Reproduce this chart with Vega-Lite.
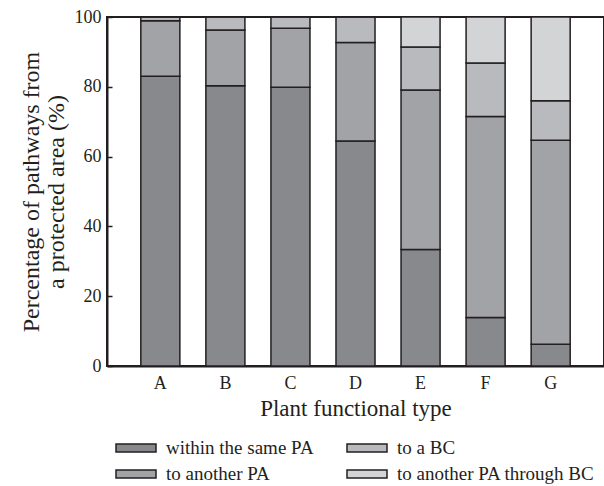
{
  "$schema": "https://vega.github.io/schema/vega-lite/v6.json",
  "width": 497,
  "height": 349,
  "autosize": {"type": "none"},
  "padding": {"left": 107, "top": 17, "right": 0, "bottom": 120},
  "background": "white",
  "config": {
    "font": "Liberation Serif",
    "view": {"stroke": "#231f20", "strokeWidth": 2}
  },
  "data": {
    "values": [
      {"type": "A", "cat": "within the same PA", "k": 1, "pct": 83.0},
      {"type": "A", "cat": "to another PA", "k": 2, "pct": 15.9},
      {"type": "A", "cat": "to a BC", "k": 3, "pct": 1.1},
      {"type": "A", "cat": "to another PA through BC", "k": 4, "pct": 0},
      {"type": "B", "cat": "within the same PA", "k": 1, "pct": 80.3},
      {"type": "B", "cat": "to another PA", "k": 2, "pct": 16.0},
      {"type": "B", "cat": "to a BC", "k": 3, "pct": 3.7},
      {"type": "B", "cat": "to another PA through BC", "k": 4, "pct": 0},
      {"type": "C", "cat": "within the same PA", "k": 1, "pct": 79.9},
      {"type": "C", "cat": "to another PA", "k": 2, "pct": 16.9},
      {"type": "C", "cat": "to a BC", "k": 3, "pct": 3.2},
      {"type": "C", "cat": "to another PA through BC", "k": 4, "pct": 0},
      {"type": "D", "cat": "within the same PA", "k": 1, "pct": 64.5},
      {"type": "D", "cat": "to another PA", "k": 2, "pct": 28.2},
      {"type": "D", "cat": "to a BC", "k": 3, "pct": 7.3},
      {"type": "D", "cat": "to another PA through BC", "k": 4, "pct": 0},
      {"type": "E", "cat": "within the same PA", "k": 1, "pct": 33.4},
      {"type": "E", "cat": "to another PA", "k": 2, "pct": 45.7},
      {"type": "E", "cat": "to a BC", "k": 3, "pct": 12.3},
      {"type": "E", "cat": "to another PA through BC", "k": 4, "pct": 8.6},
      {"type": "F", "cat": "within the same PA", "k": 1, "pct": 13.9},
      {"type": "F", "cat": "to another PA", "k": 2, "pct": 57.6},
      {"type": "F", "cat": "to a BC", "k": 3, "pct": 15.3},
      {"type": "F", "cat": "to another PA through BC", "k": 4, "pct": 13.2},
      {"type": "G", "cat": "within the same PA", "k": 1, "pct": 6.2},
      {"type": "G", "cat": "to another PA", "k": 2, "pct": 58.5},
      {"type": "G", "cat": "to a BC", "k": 3, "pct": 11.3},
      {"type": "G", "cat": "to another PA through BC", "k": 4, "pct": 24.0}
    ]
  },
  "mark": {"type": "bar", "stroke": "#231f20", "strokeWidth": 1.5},
  "encoding": {
    "x": {
      "field": "type", "type": "nominal",
      "scale": {"paddingInner": 0.4, "paddingOuter": 0.52},
      "axis": {
        "title": "Plant functional type", "titleFont": "Liberation Serif", "titleFontSize": 23, "titleFontWeight": "normal",
        "titleColor": "#231f20", "titlePadding": 5,
        "labelFont": "Liberation Serif", "labelAngle": 0, "labelFontSize": 18, "labelColor": "#231f20", "labelPadding": 8,
        "ticks": false, "domainColor": "#231f20", "domainWidth": 2
      }
    },
    "y": {
      "field": "pct", "type": "quantitative", "stack": "zero",
      "scale": {"domain": [0, 100], "nice": false},
      "axis": {
        "title": ["Percentage of pathways from", "a protected area (%)"],
        "titleFont": "Liberation Serif", "titleFontSize": 24, "titleFontWeight": "normal", "titleColor": "#231f20",
        "titlePadding": 6, "titleLineHeight": 25,
        "values": [0, 20, 40, 60, 80, 100], "grid": false,
        "labelFont": "Liberation Serif", "labelFontSize": 18, "labelColor": "#231f20", "labelPadding": 11,
        "tickSize": -5, "tickColor": "#231f20", "tickWidth": 1.5,
        "domainColor": "#231f20", "domainWidth": 2
      }
    },
    "order": {"field": "k", "type": "quantitative"},
    "color": {
      "field": "cat", "type": "nominal",
      "scale": {
        "domain": ["within the same PA", "to another PA", "to a BC", "to another PA through BC"],
        "range": ["#88898d", "#a2a3a6", "#b9babd", "#d3d4d6"]
      },
      "legend": {
        "title": null, "orient": "none", "legendX": 18, "legendY": 420,
        "columns": 2, "columnPadding": 30, "rowPadding": 5,
        "symbolType": "M-2,-0.4H2V0.4H-2Z", "symbolSize": 400,
        "symbolStrokeColor": "#231f20", "symbolStrokeWidth": 1.5,
        "labelFont": "Liberation Serif", "labelFontSize": 19, "labelColor": "#231f20", "labelOffset": 19, "labelLimit": 400
      }
    }
  }
}
